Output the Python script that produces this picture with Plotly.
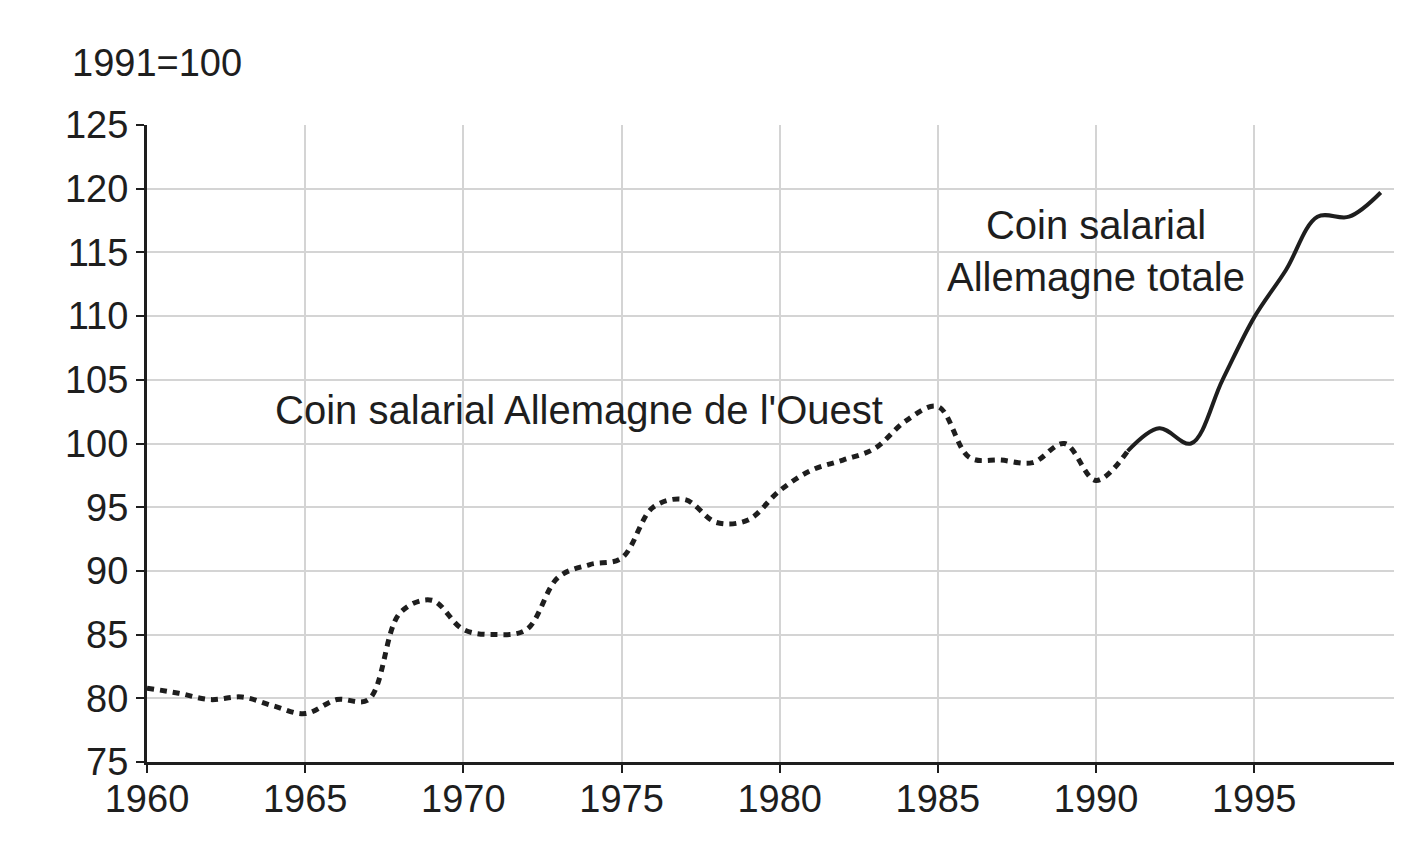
import plotly.graph_objects as go

# West Germany wage wedge (1991=100)
years_west = list(range(1960, 1992))
west = [80.8, 80.4, 79.9, 80.1, 79.4, 78.8, 79.9, 79.9, 86.7, 87.7,
        85.4, 85.0, 85.4, 89.5, 90.5, 91.0, 95.0, 95.6, 93.8, 94.0,
        96.3, 97.9, 98.7, 99.6, 101.8, 102.9, 98.9, 98.7, 98.5, 100.0,
        97.1, 99.4]

# Total Germany wage wedge
years_total = list(range(1991, 2000))
total = [99.4, 101.2, 100.0, 105.0, 109.9, 113.6, 117.8, 117.8, 119.7]

x_ticks = [1960, 1965, 1970, 1975, 1980, 1985, 1990, 1995]
y_ticks = [75, 80, 85, 90, 95, 100, 105, 110, 115, 120, 125]

FONT = "Liberation Sans, Arial, sans-serif"
INK = "#1e1e1e"

fig = go.Figure()
fig.add_trace(go.Scatter(
    x=years_west, y=west, mode="lines",
    line=dict(color=INK, width=5, dash="7px,6px", shape="spline", smoothing=1.0),
    showlegend=False, hoverinfo="skip"))
fig.add_trace(go.Scatter(
    x=years_total, y=total, mode="lines",
    line=dict(color=INK, width=4, shape="spline", smoothing=1.0),
    showlegend=False, hoverinfo="skip"))

fig.add_annotation(x=-0.0617, y=1.0973, xref="paper", yref="paper", text="1991=100",
                   showarrow=False, xanchor="left", yanchor="middle",
                   font=dict(family=FONT, size=38, color=INK))
fig.add_annotation(x=1963.98, y=102.63, xref="x", yref="y",
                   text="Coin salarial Allemagne de l'Ouest",
                   showarrow=False, xanchor="left", yanchor="middle",
                   font=dict(family=FONT, size=40, color=INK))
fig.add_annotation(x=1990.0, y=115.1, xref="x", yref="y",
                   text="Coin salarial<br>Allemagne totale",
                   showarrow=False, xanchor="center", yanchor="middle", align="center",
                   font=dict(family=FONT, size=40, color=INK))

fig.update_xaxes(range=[1960, 1999.42], tickvals=x_ticks, ticks="outside", ticklen=8,
                 tickwidth=2, tickcolor=INK, showline=True, linecolor=INK, linewidth=3,
                 showgrid=True, gridcolor="#d4d4d4", gridwidth=2, zeroline=False,
                 automargin=False, ticklabelstandoff=-7,
                 tickfont=dict(family=FONT, size=38, color=INK))
fig.update_yaxes(range=[75, 125], tickvals=y_ticks, ticks="outside", ticklen=8,
                 tickwidth=2, tickcolor=INK, showline=True, linecolor=INK, linewidth=3,
                 showgrid=True, gridcolor="#d4d4d4", gridwidth=2, zeroline=False,
                 automargin=False,
                 tickfont=dict(family=FONT, size=38, color=INK))

fig.update_layout(width=1386, height=830,
                  margin=dict(l=139, r=0, t=117, b=76),
                  paper_bgcolor="white", plot_bgcolor="white")

fig.write_html("out.html")
